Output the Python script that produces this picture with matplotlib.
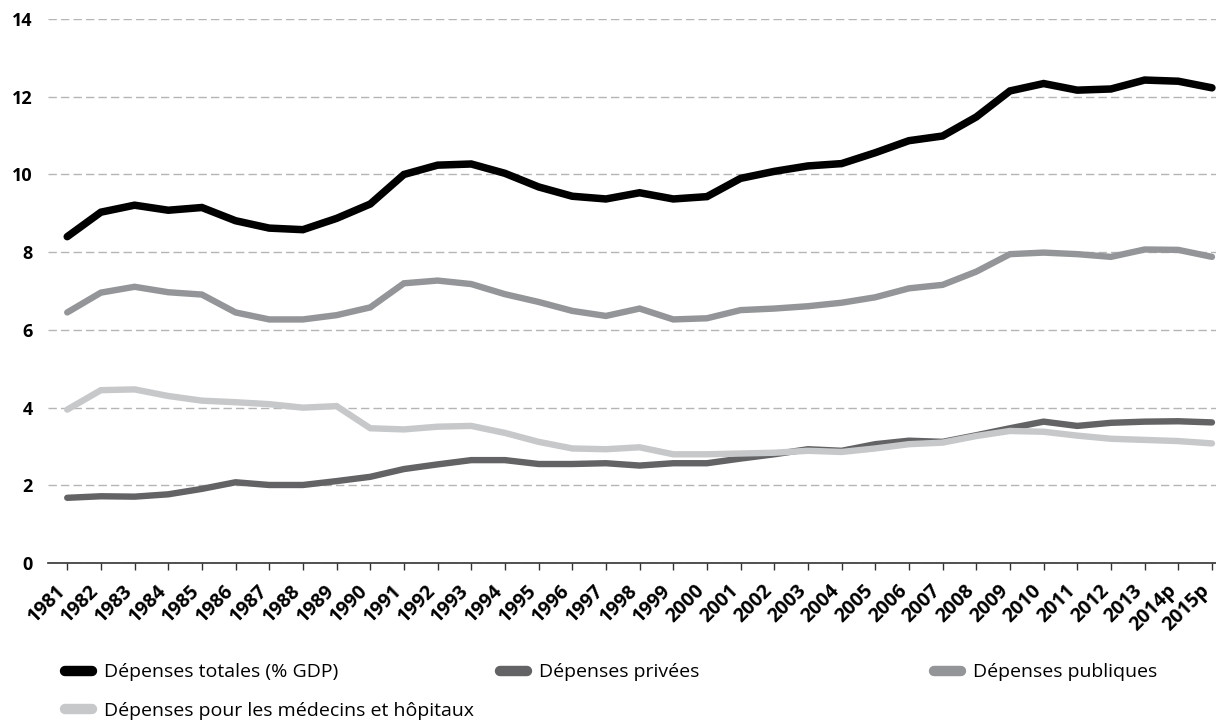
import matplotlib
matplotlib.use("Agg")
import matplotlib.pyplot as plt
from matplotlib.lines import Line2D
from matplotlib.transforms import ScaledTranslation

years = ["1981", "1982", "1983", "1984", "1985", "1986", "1987", "1988", "1989", "1990",
         "1991", "1992", "1993", "1994", "1995", "1996", "1997", "1998", "1999", "2000",
         "2001", "2002", "2003", "2004", "2005", "2006", "2007", "2008", "2009", "2010",
         "2011", "2012", "2013", "2014p", "2015p"]

totales = [8.40, 9.03, 9.21, 9.08, 9.15, 8.81, 8.62, 8.58, 8.87, 9.24,
           10.00, 10.24, 10.27, 10.03, 9.68, 9.44, 9.37, 9.53, 9.37, 9.43,
           9.90, 10.08, 10.22, 10.28, 10.56, 10.87, 10.99, 11.48, 12.15, 12.34,
           12.17, 12.20, 12.43, 12.40, 12.23]

privees = [1.68, 1.72, 1.71, 1.77, 1.91, 2.08, 2.01, 2.01, 2.11, 2.22,
           2.42, 2.54, 2.65, 2.65, 2.55, 2.55, 2.57, 2.51, 2.57, 2.57,
           2.69, 2.80, 2.93, 2.89, 3.06, 3.15, 3.12, 3.29, 3.47, 3.64,
           3.53, 3.61, 3.64, 3.65, 3.62]

publiques = [6.45, 6.96, 7.11, 6.97, 6.91, 6.45, 6.27, 6.27, 6.38, 6.58,
             7.20, 7.27, 7.18, 6.92, 6.72, 6.49, 6.36, 6.55, 6.27, 6.30,
             6.51, 6.55, 6.61, 6.70, 6.84, 7.07, 7.16, 7.50, 7.95, 7.99,
             7.95, 7.88, 8.07, 8.06, 7.88]

medecins = [3.95, 4.45, 4.47, 4.30, 4.18, 4.14, 4.09, 4.00, 4.04, 3.47,
            3.44, 3.51, 3.53, 3.35, 3.12, 2.95, 2.93, 2.98, 2.80, 2.80,
            2.82, 2.84, 2.89, 2.86, 2.95, 3.06, 3.10, 3.27, 3.40, 3.38,
            3.28, 3.20, 3.17, 3.14, 3.08]

labels = ["Dépenses totales (% GDP)", "Dépenses privées", "Dépenses publiques",
          "Dépenses pour les médecins et hôpitaux"]
colors = ["#000000", "#636365", "#939598", "#c7c8ca"]
widths = [5.4, 4.6, 4.6, 4.6]
yticks = [0, 2, 4, 6, 8, 10, 12, 14]

plt.rcParams['font.family'] = ['Open Sans', 'DejaVu Sans']

fig = plt.figure(figsize=(12.16, 7.21), dpi=100)
ax = fig.add_axes([0.0395, 0.219, 0.9605, 0.7546])

x = list(range(len(years)))
series = [totales, privees, publiques, medecins]
for i in range(4):
    ax.plot(x, series[i], color=colors[i], lw=widths[i], solid_capstyle='round',
            solid_joinstyle='miter', zorder=3 + i, label=labels[i])

ax.set_xlim(-0.57, len(years) - 1 + 0.12)
ax.set_ylim(0, 14)

ax.yaxis.grid(True, linestyle=(0, (6, 3)), color='#b5b5b5', lw=1)
ax.set_axisbelow(True)
for s in ['top', 'right', 'left']:
    ax.spines[s].set_visible(False)
ax.spines['bottom'].set_color('#333333')
ax.spines['bottom'].set_linewidth(1.2)
ax.tick_params(axis='y', length=0, pad=11)
ax.tick_params(axis='x', length=5, width=1, color='#333333', pad=13)

ax.set_yticks(yticks)
ax.set_yticklabels([str(v) for v in yticks], fontsize=13, fontweight='bold')
ax.set_xticks(x)
ax.set_xticklabels(years, rotation=45, ha='right', va='center', rotation_mode='anchor',
                   fontsize=14, fontweight='bold')
shift = ScaledTranslation(-5 / 100, 0, fig.dpi_scale_trans)
for tick in ax.xaxis.get_major_ticks():
    tick.label1.set_transform(tick.label1.get_transform() + shift)

handles = [Line2D([0], [0], color=colors[i], lw=7.5, solid_capstyle='round') for i in range(4)]
common = dict(loc='upper left', frameon=False, fontsize=14, handlelength=1.39,
              handletextpad=0.62, labelspacing=1.05, borderaxespad=0, borderpad=0)
leg1 = fig.legend([handles[0], handles[3]], [labels[0], labels[3]],
                  bbox_to_anchor=(65 / 1216, 0.080), **common)
leg2 = fig.legend([handles[1]], [labels[1]], bbox_to_anchor=(500 / 1216, 0.080), **common)
leg3 = fig.legend([handles[2]], [labels[2]], bbox_to_anchor=(934 / 1216, 0.080), **common)

fig.savefig("out.png", dpi=100)
